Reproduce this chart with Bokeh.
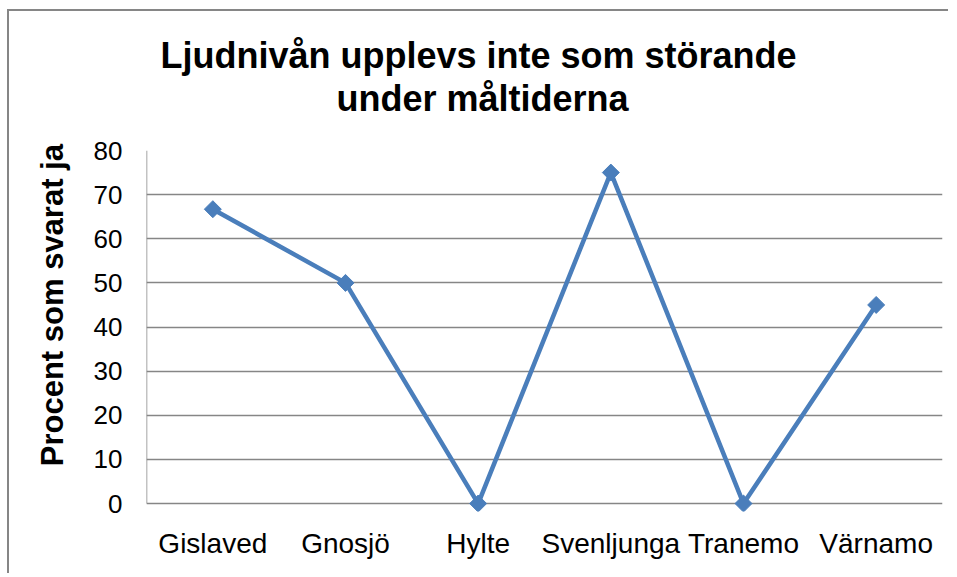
import math
from bokeh.plotting import figure
from bokeh.models import Title, ColumnDataSource, FixedTicker
from bokeh.embed import file_html
from bokeh.resources import INLINE

categories = ["Gislaved", "Gnosjö", "Hylte", "Svenljunga", "Tranemo", "Värnamo"]
values = [66.7, 50, 0, 75, 0, 45]
y_ticks = [0, 10, 20, 30, 40, 50, 60, 70, 80]
title_lines = ["Ljudnivån upplevs inte som störande", "under måltiderna"]
y_label = "Procent som svarat ja"

FONT = "Liberation Sans"
GRAY = "#868686"
BLUE = "#4A7EBB"

p = figure(x_range=categories, y_range=(-1.8, 80), width=941, height=564,
           output_backend="svg", toolbar_location=None,
           min_border_left=137, min_border_right=8, min_border_top=138, min_border_bottom=64)
p.styles = {"border-left": "2px solid #868686", "border-top": "2px solid #868686",
            "margin-left": "7px", "margin-top": "9px"}

src = ColumnDataSource(dict(x=categories, y=values))
p.line("x", "y", source=src, line_color=BLUE, line_width=4.5)
p.scatter("x", "y", source=src, marker="square", angle=math.pi / 4, size=12,
          fill_color=BLUE, line_color=BLUE)

# y axis line from 0 to 80
p.segment(x0=[0], y0=[y_ticks[0]], x1=[0], y1=[y_ticks[-1]], line_color=GRAY, line_width=1.5)

p.outline_line_color = None
p.xgrid.grid_line_color = None
p.ygrid.grid_line_color = GRAY
p.ygrid.grid_line_width = 1.5
p.yaxis.ticker = FixedTicker(ticks=y_ticks)

for ax in (p.xaxis, p.yaxis):
    ax.axis_line_color = None
    ax.major_tick_line_color = None
    ax.minor_tick_line_color = None
    ax.major_tick_out = 0
    ax.major_tick_in = 0
    ax.major_label_text_font = FONT
    ax.major_label_text_color = "black"

p.yaxis.major_label_text_font_size = "26px"
p.xaxis.major_label_text_font_size = "28px"
p.yaxis.major_label_standoff = 24
p.xaxis.major_label_standoff = 16
p.yaxis.axis_label = "\u00a0" * 6 + y_label
p.yaxis.axis_label_text_font = FONT
p.yaxis.axis_label_text_font_style = "bold"
p.yaxis.axis_label_text_font_size = "31px"
p.yaxis.axis_label_text_color = "black"
p.yaxis.axis_label_standoff = 21

# spacer, then title lines, then top spacer (added bottom-up)
p.add_layout(Title(text=" ", text_font_size="27px", standoff=0), "above")
p.add_layout(Title(text=title_lines[1], text_font=FONT, text_font_style="bold",
                   text_font_size="36px", text_color="black", align="left", offset=190,
                   standoff=0), "above")
p.add_layout(Title(text=title_lines[0], text_font=FONT, text_font_style="bold",
                   text_font_size="36px", text_color="black", align="left", offset=14,
                   standoff=0), "above")
p.add_layout(Title(text=" ", text_font_size="17px", standoff=0), "above")

open("out.html", "w").write(file_html(p, INLINE))
